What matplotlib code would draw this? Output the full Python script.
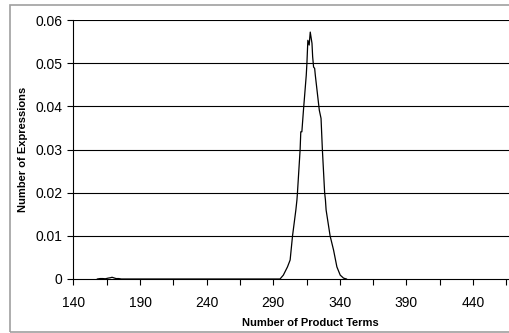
import matplotlib
matplotlib.use('Agg')
import matplotlib.pyplot as plt
from matplotlib.patches import Rectangle

plt.rcParams['font.family'] = ['Liberation Sans', 'DejaVu Sans']

# traced distribution (number of product terms -> fraction of expressions)
terms = [158, 160, 162, 164, 166, 168, 169, 170, 172, 174, 176,
         290, 295.1, 297.6, 300.7, 302.7, 304.5, 307.0, 307.8, 308.2,
         310.2, 310.7, 311.5, 312.7, 314.8, 315.3, 316.0, 317.0, 317.8,
         319.1, 319.6, 320.3, 321.1, 321.6, 324.6, 325.9, 326.9, 328.6,
         329.2, 329.7, 332.7, 335.3, 337.8, 340.3, 342.8, 345]
freq = [0, 0.0001, 0.0001, 0.00005, 0.0002, 0.0003, 0.0004, 0.0003, 0.0001, 0.0001, 0,
        0, 0, 0.0009, 0.0028, 0.0044, 0.010, 0.0160, 0.0183, 0.020,
        0.030, 0.0341, 0.0341, 0.0391, 0.0472, 0.050, 0.0553, 0.0542, 0.0572,
        0.0546, 0.0515, 0.0491, 0.0488, 0.0472, 0.0391, 0.0372, 0.030, 0.020,
        0.0183, 0.016, 0.010, 0.0067, 0.0028, 0.0009, 0.0002, 0]

xticks = list(range(140, 466, 25))
xticklabels = [str(t) if (t - 140) % 50 == 0 else '' for t in xticks]
yticks = [0, 0.01, 0.02, 0.03, 0.04, 0.05, 0.06]
yticklabels = ['0', '0.01', '0.02', '0.03', '0.04', '0.05', '0.06']

fig = plt.figure(figsize=(5.09, 3.33), dpi=100)
fig.patches.append(Rectangle((10 / 509, 1 / 333), 1.0, 327 / 333, transform=fig.transFigure,
                             fill=False, edgecolor='#a0a0a0', linewidth=1.2))
ax = fig.add_axes([73.4 / 509, 54 / 333, 1 - 73.4 / 509, 259 / 333])

ax.plot(terms, freq, color='black', linewidth=0.9)

ax.set_xlim(140, 467)
ax.set_ylim(0, 0.06)
ax.set_xticks(xticks)
ax.set_xticklabels(xticklabels)
ax.set_yticks(yticks)
ax.set_yticklabels(yticklabels)
ax.tick_params(axis='x', direction='out', length=4, width=0.8, pad=8, labelsize=10)
ax.tick_params(axis='y', direction='out', length=4, width=0.8, pad=4, labelsize=10)

for y in yticks[1:]:
    ax.axhline(y, color='black', linewidth=0.8, zorder=0)

for s in ['top', 'right']:
    ax.spines[s].set_visible(False)
ax.spines['left'].set_linewidth(0.8)
ax.spines['bottom'].set_linewidth(0.8)
ax.patch.set_visible(False)

ax.set_xlabel('Number of Product Terms', fontsize=8, fontweight='bold')
ax.xaxis.set_label_coords((310 - 73.4) / (509 - 73.4), -39 / 259)
ax.set_ylabel('Number of Expressions', fontsize=8, fontweight='bold')
ax.yaxis.set_label_coords(-(73.4 - 28) / (509 - 73.4), 0.5)

fig.savefig('out.png', dpi=100)
